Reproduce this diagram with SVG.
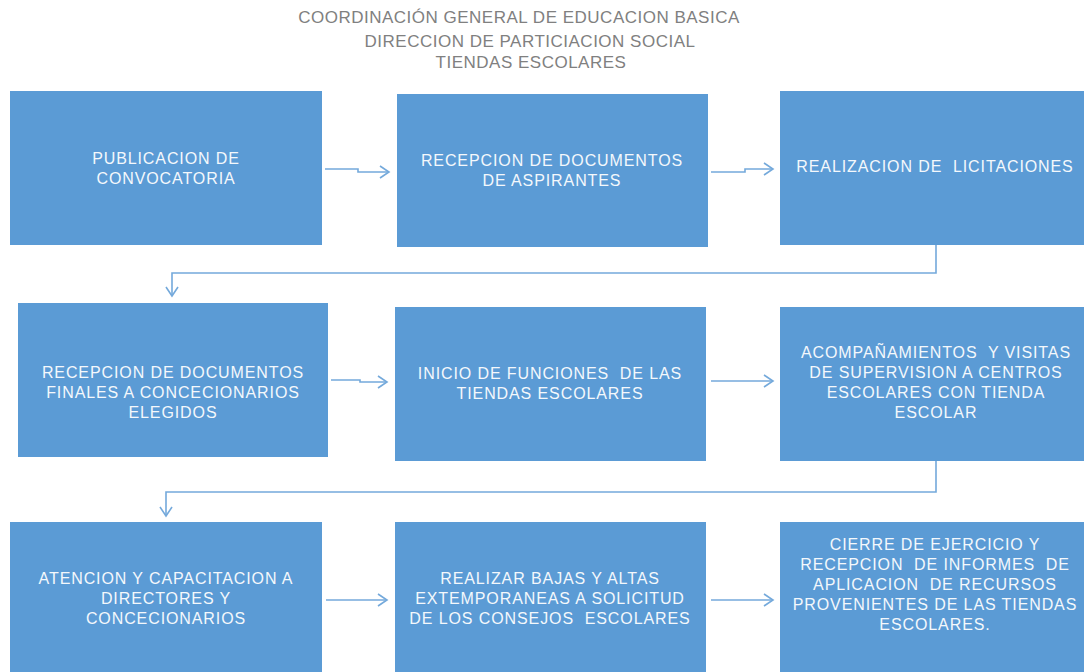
<svg xmlns="http://www.w3.org/2000/svg" width="1084" height="672" viewBox="0 0 1084 672">
<defs>
<style>
.box{fill:#5b9bd5;}
.t{font-family:"Liberation Sans",Arial,sans-serif;font-size:16px;letter-spacing:0.9px;fill:#f4f8fc;text-anchor:middle;white-space:pre;}
.title{font-family:"Liberation Sans",Arial,sans-serif;font-size:17px;letter-spacing:0.5px;fill:#808080;text-anchor:middle;}
.c{fill:none;stroke:#74a9db;stroke-width:1.6;}
</style>
<marker id="ah" markerWidth="12" markerHeight="14" refX="10" refY="7" orient="auto" markerUnits="userSpaceOnUse">
<path d="M1,1 L10,7 L1,13" fill="none" stroke="#74a9db" stroke-width="1.6"/>
</marker>
</defs>
<rect width="1084" height="672" fill="#ffffff"/>
<g id="title">
<text class="title" x="519" y="23">COORDINACIÓN GENERAL DE EDUCACION BASICA</text>
<text class="title" x="530" y="47">DIRECCION DE PARTICIACION SOCIAL</text>
<text class="title" x="531" y="68">TIENDAS ESCOLARES</text>
</g>
<g id="n1"><rect class="box" x="10" y="91" width="312" height="154"/>
<text class="t" x="166" y="164">PUBLICACION DE</text><text class="t" x="166" y="184">CONVOCATORIA</text></g>
<g id="n2"><rect class="box" x="397" y="94" width="311" height="153"/>
<text class="t" x="552" y="166">RECEPCION DE DOCUMENTOS</text><text class="t" x="552" y="186">DE ASPIRANTES</text></g>
<g id="n3"><rect class="box" x="780" y="91" width="304" height="154"/>
<text class="t" x="935" y="172">REALIZACION DE  LICITACIONES</text></g>
<g id="n4"><rect class="box" x="18" y="303" width="310" height="154"/>
<text class="t" x="173" y="378">RECEPCION DE DOCUMENTOS</text><text class="t" x="173" y="398">FINALES A CONCECIONARIOS</text><text class="t" x="173" y="418">ELEGIDOS</text></g>
<g id="n5"><rect class="box" x="395" y="307" width="311" height="154"/>
<text class="t" x="550" y="379">INICIO DE FUNCIONES  DE LAS</text><text class="t" x="550" y="399">TIENDAS ESCOLARES</text></g>
<g id="n6"><rect class="box" x="780" y="307" width="304" height="154"/>
<text class="t" x="936" y="358">ACOMPAÑAMIENTOS  Y VISITAS</text><text class="t" x="936" y="378">DE SUPERVISION A CENTROS</text><text class="t" x="936" y="398">ESCOLARES CON TIENDA</text><text class="t" x="936" y="418">ESCOLAR</text></g>
<g id="n7"><rect class="box" x="10" y="522" width="312" height="150"/>
<text class="t" x="166" y="584">ATENCION Y CAPACITACION A</text><text class="t" x="166" y="604">DIRECTORES Y</text><text class="t" x="166" y="624">CONCECIONARIOS</text></g>
<g id="n8"><rect class="box" x="395" y="522" width="311" height="150"/>
<text class="t" x="550" y="584">REALIZAR BAJAS Y ALTAS</text><text class="t" x="550" y="604">EXTEMPORANEAS A SOLICITUD</text><text class="t" x="550" y="624">DE LOS CONSEJOS  ESCOLARES</text></g>
<g id="n9"><rect class="box" x="780" y="522" width="304" height="150"/>
<text class="t" x="935" y="550">CIERRE DE EJERCICIO Y</text><text class="t" x="935" y="570">RECEPCION  DE INFORMES  DE</text><text class="t" x="935" y="590">APLICACION  DE RECURSOS</text><text class="t" x="935" y="610">PROVENIENTES DE LAS TIENDAS</text><text class="t" x="935" y="630">ESCOLARES.</text></g>
<g id="connectors">
<path class="c" d="M325,169 H358 V172 H389" marker-end="url(#ah)"/>
<path class="c" d="M711,172 H745 V169 H773" marker-end="url(#ah)"/>
<path class="c" d="M936,245 V273 H172 V296" marker-end="url(#ah)"/>
<path class="c" d="M331,380 H360 V382 H387" marker-end="url(#ah)"/>
<path class="c" d="M711,381 H773" marker-end="url(#ah)"/>
<path class="c" d="M936,461 V492 H166 V516" marker-end="url(#ah)"/>
<path class="c" d="M326,600 H387" marker-end="url(#ah)"/>
<path class="c" d="M711,600 H773" marker-end="url(#ah)"/>
</g>
</svg>
